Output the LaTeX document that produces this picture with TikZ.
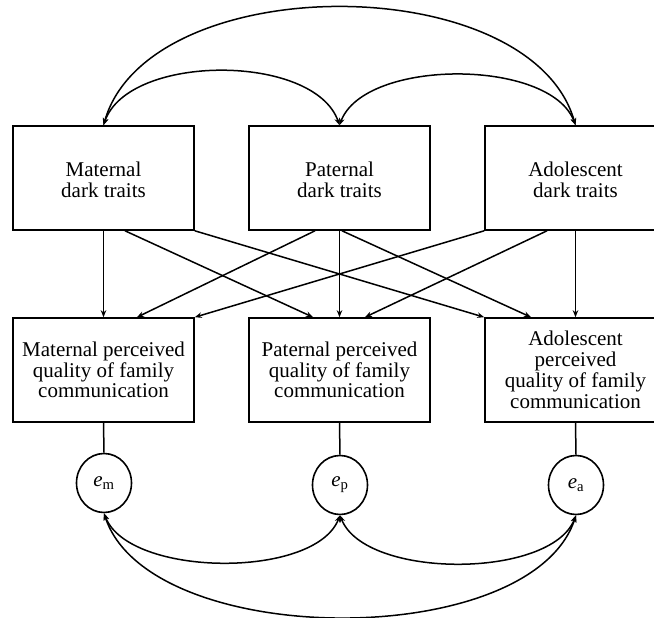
\documentclass[tikz,border=0pt]{standalone}
\usepackage{fontspec}
\setmainfont{Liberation Serif}
\newfontfamily\serfont{Liberation Serif}
\usetikzlibrary{arrows.meta,shapes.geometric}
\begin{document}
\begin{tikzpicture}[x=1pt,y=1pt,
  box/.style={draw,line width=1.6pt,minimum width=181pt,minimum height=104pt,inner sep=0pt,align=center,font=\serfont\fontsize{21}{20.8}\selectfont},
  err/.style={draw,line width=1.6pt,ellipse,minimum width=55pt,minimum height=59pt,inner sep=0pt,font=\serfont\fontsize{21}{21}\selectfont},
  tip/.tip={Stealth[length=7pt,width=5.5pt]},
  arr/.style={line width=1.5pt,-tip},
  cov/.style={line width=1.5pt,tip-tip},
  ln/.style={line width=1.5pt}]
\clip (0,0) rectangle (654,618);
% top boxes
\node[box] (T1) at (103.5,440) {\rule{0pt}{18.5pt}Maternal\\dark traits};
\node[box] (T2) at (339.5,440) {\rule{0pt}{18.5pt}Paternal\\dark traits};
\node[box] (T3) at (575.5,440) {\rule{0pt}{18.5pt}Adolescent\\dark traits};
% bottom boxes
\node[box] (B1) at (103.5,248) {Maternal perceived\\quality of family\\communication};
\node[box] (B2) at (339.5,248) {Paternal perceived\\quality of family\\communication};
\node[box] (B3) at (575.5,248) {Adolescent\\perceived\\quality of family\\communication};
% error terms
\node[err] (E1) at (104,135) {\textit{e}\textsubscript{m}};
\node[err] (E2) at (340,133) {\textit{e}\textsubscript{p}};
\node[err] (E3) at (576,133) {\textit{e}\textsubscript{a}};
% paths
\draw[arr] (T1.south) -- (B1.north);
\draw[arr] ([xshift=21.5pt]T1.south) -- ([xshift=-26.5pt]B2.north);
\draw[arr] (T1.south east) -- (B3.north west);
\draw[arr] ([xshift=-24.5pt]T2.south) -- ([xshift=33.5pt]B1.north);
\draw[arr] (T2.south) -- (B2.north);
\draw[arr] ([xshift=2.5pt]T2.south) -- ([xshift=-44.5pt]B3.north);
\draw[arr] (T3.south west) -- (B1.north east);
\draw[arr] ([xshift=-28.5pt]T3.south) -- ([xshift=25.5pt]B2.north);
\draw[arr] (T3.south) -- (B3.north);
% residual links
\draw[ln] (B1.south) -- (E1.north);
\draw[ln] (B2.south) -- (E2.north);
\draw[ln] (B3.south) -- (E3.north);
% covariances top
\draw[cov] (T1.north) .. controls +(25,72) and +(-25,72) .. (T2.north);
\draw[cov] (T2.north) .. controls +(25,67) and +(-25,67) .. (T3.north);
\draw[cov] (T1.north) .. controls +(45,157) and +(-45,157) .. (T3.north);
% covariances bottom
\draw[cov] (E1.south) .. controls +(25,-64) and +(-25,-64) .. (E2.south);
\draw[cov] (E2.south) .. controls +(25,-64) and +(-25,-64) .. (E3.south);
\draw[cov] (E1.south) .. controls +(45,-137) and +(-45,-137) .. (E3.south);
\end{tikzpicture}
\end{document}
